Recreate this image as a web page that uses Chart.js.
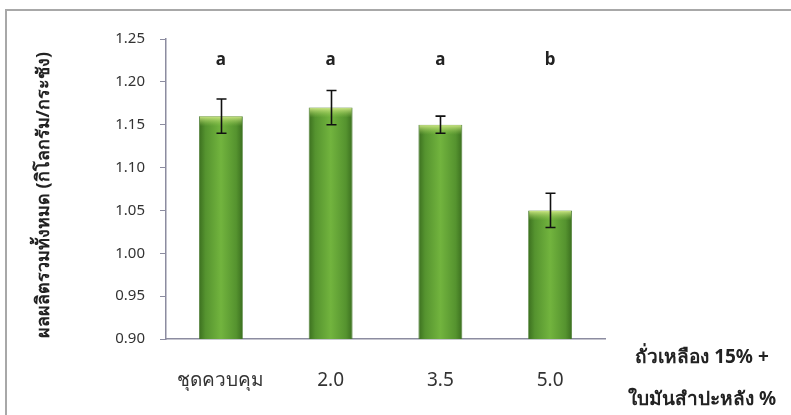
<!DOCTYPE html>
<html>
<head>
<meta charset="utf-8">
<script src="https://cdn.jsdelivr.net/npm/chart.js@4"></script>
<style>
  html, body { margin: 0; padding: 0; background: #fff; }
  #wrap { position: relative; width: 791px; height: 415px; }
</style>
</head>
<body>
<div id="wrap"><canvas id="yieldChart"></canvas></div>
<script>
const categories = ["ชุดควบคุม", "2.0", "3.5", "5.0"];
const yieldValues = [1.16, 1.17, 1.15, 1.05];
const errLow = [1.14, 1.15, 1.14, 1.03];
const errHigh = [1.18, 1.19, 1.16, 1.07];
const letters = ["a", "a", "a", "b"];
const letterLevel = 1.225;
const yTicks = [0.90, 0.95, 1.00, 1.05, 1.10, 1.15, 1.20, 1.25];

const FONT = "'Noto Sans', 'Open Sans', sans-serif";
const BAR_PCT = 0.4;

// light cap on top of each bar, error bars, letters
const extras = {
  id: "extras",
  afterDatasetsDraw(chart) {
    const ctx = chart.ctx;
    const y = chart.scales.y;
    const meta = chart.getDatasetMeta(0);
    ctx.save();
    meta.data.forEach(bar => {
      const l = bar.x - bar.width / 2 + 1, r = bar.x + bar.width / 2 - 1;
      const g = ctx.createLinearGradient(0, bar.y, 0, bar.y + 10);
      g.addColorStop(0, "rgba(214,236,140,0.95)");
      g.addColorStop(1, "rgba(150,200,80,0)");
      ctx.fillStyle = g;
      ctx.fillRect(l, bar.y + 0.5, r - l, 10);
    });
    ctx.strokeStyle = "#111";
    ctx.lineWidth = 1.6;
    meta.data.forEach((bar, i) => {
      const x = Math.round(bar.x) + 0.5;
      const top = y.getPixelForValue(errHigh[i]);
      const bot = y.getPixelForValue(errLow[i]);
      ctx.beginPath();
      ctx.moveTo(x, top); ctx.lineTo(x, bot);
      ctx.moveTo(x - 5, top); ctx.lineTo(x + 5, top);
      ctx.moveTo(x - 5, bot); ctx.lineTo(x + 5, bot);
      ctx.stroke();
    });
    ctx.fillStyle = "#222";
    ctx.font = "bold 17px " + FONT;
    ctx.textAlign = "center";
    ctx.textBaseline = "middle";
    meta.data.forEach((bar, i) => {
      ctx.fillText(letters[i], bar.x, y.getPixelForValue(letterLevel));
    });
    ctx.restore();
  },
  afterDraw(chart) {
    const ctx = chart.ctx;
    ctx.save();
    // frame (top and left edges of the picture)
    ctx.strokeStyle = "#a8a8a8";
    ctx.lineWidth = 2;
    ctx.beginPath();
    ctx.moveTo(6, 415); ctx.lineTo(6, 10); ctx.lineTo(791, 10);
    ctx.stroke();
    ctx.fillStyle = "#222";
    ctx.font = "bold 18px " + FONT;
    ctx.textAlign = "center";
    ctx.textBaseline = "middle";
    ctx.translate(44, 195);
    ctx.rotate(-Math.PI / 2);
    ctx.fillText("ผลผลิตรวมทั้งหมด (กิโลกรัม/กระชัง)", 0, 0);
    ctx.restore();
    ctx.save();
    ctx.fillStyle = "#222";
    ctx.font = "bold 19px " + FONT;
    ctx.textAlign = "center";
    ctx.textBaseline = "middle";
    ctx.fillText("ถั่วเหลือง 15% +", 702, 358);
    ctx.fillText("ใบมันสำปะหลัง %", 702, 400);
    ctx.restore();
  }
};

function barFill(context) {
  const chart = context.chart;
  const xs = chart.scales && chart.scales.x;
  if (!xs || context.dataIndex === undefined) return "#5f9e35";
  const cx = xs.getPixelForValue(context.dataIndex);
  const w = (xs.width / categories.length) * BAR_PCT;
  if (!Number.isFinite(cx) || !Number.isFinite(w) || w <= 0) return "#5f9e35";
  const g = chart.ctx.createLinearGradient(cx - w / 2, 0, cx + w / 2, 0);
  g.addColorStop(0, "#3b6f1f");
  g.addColorStop(0.15, "#55932f");
  g.addColorStop(0.5, "#72b43e");
  g.addColorStop(0.85, "#55932f");
  g.addColorStop(1, "#3b6f1f");
  return g;
}

new Chart(document.getElementById("yieldChart"), {
  type: "bar",
  data: {
    labels: categories,
    datasets: [{
      data: yieldValues,
      backgroundColor: barFill,
      borderColor: "#44772a",
      borderWidth: 0.8,
      barPercentage: BAR_PCT,
      categoryPercentage: 1
    }]
  },
  options: {
    responsive: true,
    maintainAspectRatio: false,
    animation: false,
    layout: { padding: { left: 8, top: 39, right: 186, bottom: 0 } },
    plugins: { legend: { display: false }, tooltip: { enabled: false } },
    scales: {
      x: {
        grid: { display: false, drawTicks: false },
        border: { color: "#8c8ca0", width: 1.5 },
        ticks: { color: "#333", font: { family: FONT, size: 19 }, padding: 30 },
        afterFit(scale) { scale.height = 76; }
      },
      y: {
        min: 0.9,
        max: 1.25,
        afterBuildTicks(scale) { scale.ticks = yTicks.map(v => ({ value: v })); },
        grid: { drawOnChartArea: false, drawTicks: true, tickLength: 6, color: "#8c8ca0" },
        border: { color: "#8c8ca0", width: 1.5 },
        ticks: {
          color: "#333",
          font: { family: FONT, size: 15 },
          padding: 15,
          callback: v => v.toFixed(2)
        },
        afterFit(scale) { scale.width = 158; }
      }
    }
  },
  plugins: [extras]
});
</script>
</body>
</html>
